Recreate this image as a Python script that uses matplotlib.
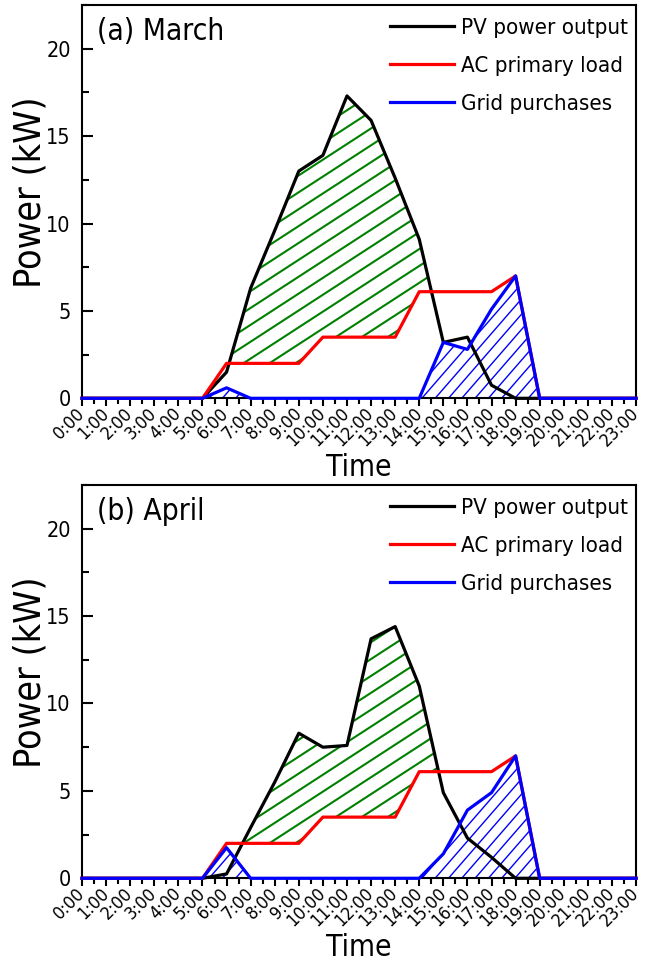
import numpy as np
import matplotlib
matplotlib.use("Agg")
import matplotlib.pyplot as plt
import matplotlib.font_manager as fm
from matplotlib.collections import LineCollection
from matplotlib.transforms import Affine2D
from matplotlib.ticker import MultipleLocator

# hourly values (kW)
hours = list(range(24))
hour_labels = [f"{h}:00" for h in hours]

load = [0, 0, 0, 0, 0, 0, 2.0, 2.0, 2.0, 2.0, 3.5, 3.5, 3.5, 3.5,
        6.1, 6.1, 6.1, 6.1, 7.0, 0, 0, 0, 0, 0]

pv_march = [0, 0, 0, 0, 0, 0, 1.5, 6.3, 9.6, 13.0, 13.9, 17.3, 15.9, 12.6,
            9.1, 3.2, 3.5, 0.75, 0, 0, 0, 0, 0, 0]
grid_march = [0, 0, 0, 0, 0, 0, 0.6, 0, 0, 0, 0, 0, 0, 0,
              0, 3.2, 2.8, 5.1, 7.0, 0, 0, 0, 0, 0]

pv_april = [0, 0, 0, 0, 0, 0, 0.25, 2.9, 5.5, 8.3, 7.5, 7.6, 13.7, 14.4,
            11.0, 4.9, 2.3, 1.2, 0, 0, 0, 0, 0, 0]
grid_april = [0, 0, 0, 0, 0, 0, 1.75, 0, 0, 0, 0, 0, 0, 0,
              0, 1.4, 3.9, 4.9, 7.0, 0, 0, 0, 0, 0]

panels = [("(a) March", pv_march, grid_march),
          ("(b) April", pv_april, grid_april)]

# Tahoma-like look: condensed DejaVu if the system has it
cond = [f for f in fm.fontManager.ttflist if "DejaVuSansCondensed.ttf" in f.fname]
if cond:
    plt.rcParams["font.family"] = cond[0].name
    plt.rcParams["font.stretch"] = "condensed"
    k = 1.0
else:
    plt.rcParams["font.family"] = "DejaVu Sans"
    k = 0.9


def hatch(ax, coll, angle, step, color, lw):
    """draw parallel lines (angle in degrees, step = horizontal spacing in px)
    clipped to the polygons of a fill_between collection"""
    bb = ax.get_window_extent()
    W, H = bb.width, bb.height
    pix = Affine2D().scale(1 / W, 1 / H) + ax.transAxes
    a = np.deg2rad(angle)
    L = 2 * (W + H)
    segs = []
    for c in np.arange(-2 * (W + H), 2 * (W + H), step):
        segs.append([(c - L * np.cos(a), -L * np.sin(a)),
                     (c + L * np.cos(a), L * np.sin(a))])
    for path in coll.get_paths():
        lc = LineCollection(segs, transform=pix, colors=color,
                            linewidths=lw, zorder=1.5)
        ax.add_collection(lc, autolim=False)
        lc.set_clip_path(path, ax.transData)


fig = plt.figure(figsize=(6.5, 9.64), dpi=100)
bottoms = [0.5868, 0.0889]

for (title, pv, grid), b in zip(panels, bottoms):
    ax = fig.add_axes([0.1262, b, 0.8523, 0.408])
    ax.set_xlim(0, 23)
    ax.set_ylim(0, 22.5)

    pv_a = np.array(pv)
    load_a = np.array(load)
    green = ax.fill_between(hours, load_a, pv_a, where=pv_a > load_a,
                            interpolate=True, facecolor="none", lw=0)
    blue = ax.fill_between(hours, 0, grid, facecolor="none", lw=0)
    hatch(ax, green, 33, 26, "#008000", 1.5)
    hatch(ax, blue, 49, 13.3, "#0000ff", 1.0)

    ax.plot(hours, pv, color="black", lw=2.3, label="PV power output",
            zorder=3, clip_on=False)
    ax.plot(hours, load, color="#ff0000", lw=2.3, label="AC primary load",
            zorder=3.1, clip_on=False)
    ax.plot(hours, grid, color="#0000ff", lw=2.3, label="Grid purchases",
            zorder=3.2, clip_on=False)

    ax.set_xticks(hours)
    ax.set_xticklabels(hour_labels, rotation=45, ha="right", va="center",
                       rotation_mode="anchor", fontsize=13 * k)
    ax.xaxis.set_minor_locator(MultipleLocator(0.5))
    ax.set_yticks([0, 5, 10, 15, 20])
    ax.yaxis.set_minor_locator(MultipleLocator(2.5))
    ax.tick_params(axis="x", which="major", direction="out", length=6,
                   width=1.5, pad=3)
    ax.tick_params(axis="x", which="minor", direction="out", length=4,
                   width=1.5)
    ax.tick_params(axis="y", which="major", direction="in", length=8,
                   width=1.5, pad=8, labelsize=15.5 * k)
    ax.tick_params(axis="y", which="minor", direction="in", length=4.8,
                   width=1.5)
    for s in ax.spines.values():
        s.set_linewidth(1.5)

    ax.set_xlabel("Time", fontsize=21.5 * k, labelpad=2)
    ax.set_ylabel("Power (kW)", fontsize=27 * k)
    ax.yaxis.set_label_coords(-0.06, 0.525)
    ax.text(0.027, 0.912, title, transform=ax.transAxes,
            fontsize=21.5 * k, va="baseline", ha="left")

    ax.legend(loc="upper right", bbox_to_anchor=(0.9856, 0.967),
              frameon=False, fontsize=16 * k, handlelength=2.9,
              handletextpad=0.3, labelspacing=0.8, borderpad=0,
              borderaxespad=0)

fig.savefig("out.png", dpi=100)
